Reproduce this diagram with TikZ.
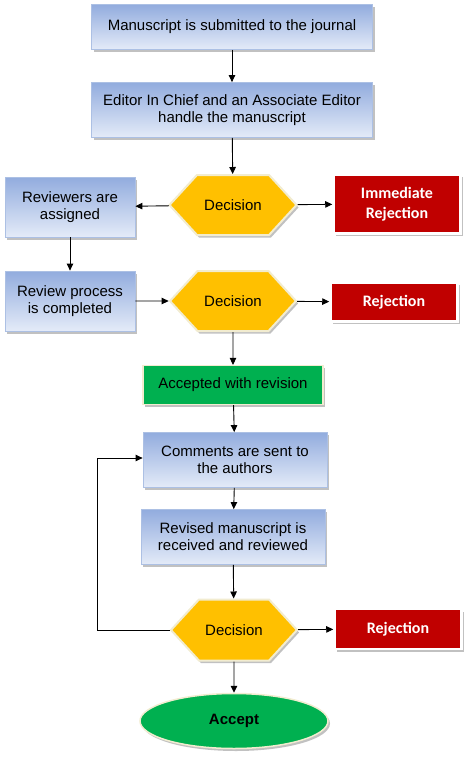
\documentclass[tikz,border=0pt]{standalone}
\usepackage{fontspec}
\setmainfont{Liberation Sans}
\newfontfamily\carlito{Carlito}
\usetikzlibrary{shapes.symbols,shapes.geometric,shadows,arrows.meta}

\definecolor{stepblue}{RGB}{146,172,222}
\definecolor{steplight}{RGB}{228,235,248}
\definecolor{stepedge}{RGB}{172,192,228}
\definecolor{decfill}{RGB}{255,192,0}
\definecolor{decedge}{RGB}{242,236,208}
\definecolor{rejfill}{RGB}{192,0,0}
\definecolor{okfill}{RGB}{0,176,80}

\tikzset{
  boxshadow/.style={drop shadow={shadow xshift=2pt,shadow yshift=-2.5pt,fill=black!30,opacity=.8}},
  stepbox/.style={rectangle,draw=stepedge,line width=.8pt,top color=stepblue,bottom color=steplight,
    boxshadow,align=center,inner sep=2pt,font=\fontsize{15}{17}\selectfont},
  decbox/.style={signal,signal to=west and east,signal pointer angle=95,fill=decfill,draw=decedge,
    line width=2pt,boxshadow,inner sep=2pt,font=\fontsize{15}{17}\selectfont},
  rejbox/.style={rectangle,fill=rejfill,draw=white,line width=2.5pt,boxshadow,align=center,
    text=white,inner sep=2pt,font=\carlito\bfseries\fontsize{16}{20}\selectfont},
  okbox/.style={rectangle,fill=okfill,draw=decedge,line width=1.2pt,boxshadow,align=center,
    inner sep=2pt,font=\fontsize{15}{17}\selectfont},
  link/.style={draw=black,line width=.9pt,-{Triangle[length=7pt,width=6.5pt]}}
}

\begin{document}
\begin{tikzpicture}[x=1pt,y=-1pt]
  \useasboundingbox (0,0) rectangle (474,764);
  \node[stepbox,minimum width=281pt,minimum height=45pt] (sub) at (232,27) {Manuscript is submitted to the journal};
  \node[stepbox,minimum width=281pt,minimum height=55pt] (ed) at (232,110) {Editor In Chief and an Associate Editor\\handle the manuscript};
  \node[decbox,minimum width=127pt,minimum height=60pt] (dec1) at (233,205) {Decision};
  \node[stepbox,minimum width=130pt,minimum height=60pt] (rev) at (70,207) {Reviewers are\\assigned};
  \node[rejbox,minimum width=127pt,minimum height=59pt] (imm) at (397,204) {Immediate\\Rejection};
  \node[stepbox,minimum width=130pt,minimum height=60pt] (proc) at (70,301) {Review process\\is completed};
  \node[decbox,minimum width=126pt,minimum height=60pt] (dec2) at (233,301) {Decision};
  \node[rejbox,minimum width=127pt,minimum height=39pt] (rej2) at (394,302) {Rejection};
  \node[okbox,minimum width=180pt,minimum height=39pt] (acc) at (233,385) {Accepted with revision};
  \node[stepbox,minimum width=184pt,minimum height=55pt] (com) at (235,460) {Comments are sent to\\the authors};
  \node[stepbox,minimum width=184pt,minimum height=55pt] (revd) at (233,537) {Revised manuscript is\\received and reviewed};
  \node[decbox,minimum width=126pt,minimum height=61pt] (dec3) at (234,630) {Decision};
  \node[rejbox,minimum width=127pt,minimum height=40pt] (rej3) at (398,629) {Rejection};
  \node[ellipse,fill=okfill,draw=decedge,line width=1.5pt,boxshadow,minimum width=188pt,minimum height=55pt,
    font=\bfseries\fontsize{15}{17}\selectfont] (accept) at (234,721) {Accept};
  \coordinate (loop) at (97,630);

  \path[link] (sub) edge (ed);
  \path[link] (ed) edge (dec1);
  \path[link] (dec1) edge (rev);
  \path[link] (dec1) edge (imm);
  \path[link] (rev) edge (proc);
  \path[link] (proc) edge (dec2);
  \path[link] (dec2) edge (rej2);
  \path[link] (dec2) edge (acc);
  \path[link] (acc) edge (com);
  \path[link] (com) edge (revd);
  \path[link] (revd) edge (dec3);
  \path[link] (dec3) edge (rej3);
  \path[link] (dec3) edge (accept);
  \draw[link] (dec3.west) -- (loop) |- ([yshift=2pt]com.west);
\end{tikzpicture}
\end{document}
